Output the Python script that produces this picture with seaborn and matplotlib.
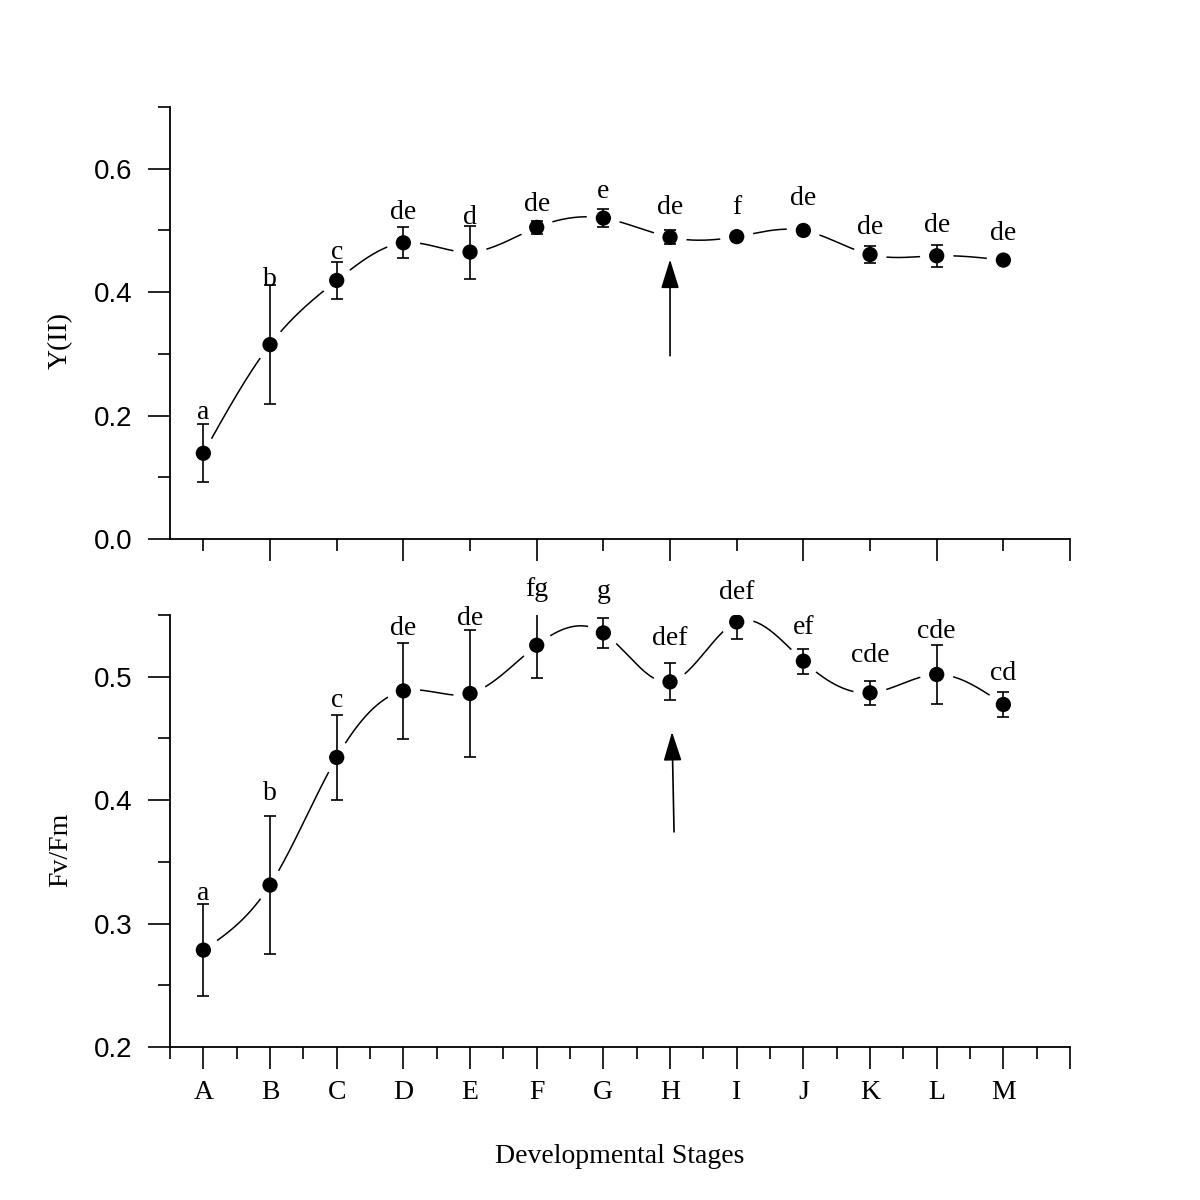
import numpy as np
import pandas as pd
import matplotlib
matplotlib.use("Agg")
import matplotlib.pyplot as plt
import seaborn as sns

# ---------------- data ----------------
stages = ["A", "B", "C", "D", "E", "F", "G", "H", "I", "J", "K", "L", "M"]

yii_mean = [0.139, 0.315, 0.419, 0.480, 0.465, 0.505, 0.520, 0.489, 0.490, 0.500, 0.461, 0.459, 0.452]
yii_err = [0.047, 0.096, 0.030, 0.025, 0.043, 0.011, 0.014, 0.011, 0.005, 0.004, 0.0135, 0.0175, 0.005]
yii_letters = ["a", "b", "c", "de", "d", "de", "e", "de", "f", "de", "de", "de", "de"]

fvfm_mean = [0.2785, 0.3312, 0.4346, 0.4885, 0.4864, 0.5255, 0.5355, 0.4958, 0.5444, 0.5126, 0.4869, 0.5018, 0.4775]
fvfm_err = [0.0375, 0.0557, 0.0347, 0.0387, 0.0515, 0.0265, 0.012, 0.015, 0.014, 0.010, 0.0096, 0.0236, 0.010]
fvfm_letters = ["a", "b", "c", "de", "de", "fg", "g", "def", "def", "ef", "cde", "cde", "cd"]

# annotation placement (baseline of letter labels, data units)
yii_label_y = [0.195, 0.410, 0.453, 0.518, 0.510, 0.531, 0.552, 0.527, 0.526, 0.542, 0.494, 0.497, 0.485]
fvfm_label_y = [0.319, 0.400, 0.4756, 0.5336, 0.5417, 0.565, 0.5636, 0.5255, 0.5633, 0.535, 0.512, 0.531, 0.4972]

# ---------------- style ----------------
sns.set_style("ticks")
plt.rcParams["font.family"] = ["Liberation Serif", "DejaVu Serif"]
plt.rcParams["axes.linewidth"] = 1.3
plt.rcParams["text.color"] = "black"
plt.rcParams["axes.labelcolor"] = "black"
plt.rcParams["xtick.color"] = "black"
plt.rcParams["ytick.color"] = "black"
plt.rcParams["axes.edgecolor"] = "black"


def natural_spline(x, y, xs):
    x = np.asarray(x, float)
    y = np.asarray(y, float)
    n = len(x)
    h = np.diff(x)
    A = np.zeros((n, n))
    b = np.zeros(n)
    A[0, 0] = 1.0
    A[-1, -1] = 1.0
    for i in range(1, n - 1):
        A[i, i - 1] = h[i - 1]
        A[i, i] = 2 * (h[i - 1] + h[i])
        A[i, i + 1] = h[i]
        b[i] = 3 * ((y[i + 1] - y[i]) / h[i] - (y[i] - y[i - 1]) / h[i - 1])
    c = np.linalg.solve(A, b)
    bb = np.zeros(n - 1)
    d = np.zeros(n - 1)
    for i in range(n - 1):
        bb[i] = (y[i + 1] - y[i]) / h[i] - h[i] * (2 * c[i] + c[i + 1]) / 3
        d[i] = (c[i + 1] - c[i]) / (3 * h[i])
    idx = np.clip(np.searchsorted(x, xs, side="right") - 1, 0, n - 2)
    dx = xs - x[idx]
    return y[idx] + bb[idx] * dx + c[idx] * dx ** 2 + d[idx] * dx ** 3


fig = plt.figure(figsize=(12, 12), dpi=100)
ax1 = fig.add_axes([0.1417, 0.5508, 0.75, 0.36])
ax2 = fig.add_axes([0.1417, 0.1275, 0.75, 0.36])

xpos = np.arange(len(stages))


def draw_panel(ax, mean, err, letters, label_y):
    xs = np.linspace(0, len(stages) - 1, 600)
    curve = pd.DataFrame({"x": xs, "y": natural_spline(xpos, mean, xs)})
    sns.lineplot(data=curve, x="x", y="y", ax=ax, color="black", lw=1.1,
                 sort=False, estimator=None, zorder=1)
    pts = pd.DataFrame({"x": xpos, "y": mean})
    # white halo giving the gap between curve and symbol
    sns.scatterplot(data=pts, x="x", y="y", ax=ax, s=24 ** 2, color="white",
                    edgecolor="none", zorder=2, legend=False)
    ax.errorbar(xpos, mean, yerr=err, fmt="none", ecolor="black",
                elinewidth=1.2, capsize=4.5, capthick=1.2, zorder=3)
    sns.scatterplot(data=pts, x="x", y="y", ax=ax, s=11 ** 2, color="black",
                    edgecolor="none", zorder=4, legend=False)
    for xi, ly, s in zip(xpos, label_y, letters):
        ax.text(xi, ly, s, ha="center", va="baseline", fontsize=20,
                family="Liberation Serif", color="black", zorder=5)
    sns.despine(ax=ax)
    ax.set_xlim(-0.5, 13)
    ax.set_xlabel("")


# ---- top panel ----
draw_panel(ax1, yii_mean, yii_err, yii_letters, yii_label_y)
ax1.set_ylim(0, 0.7)
ax1.set_yticks([0.0, 0.2, 0.4, 0.6])
ax1.set_yticklabels(["0.0", "0.2", "0.4", "0.6"])
ax1.set_yticks([0.1, 0.3, 0.5, 0.7], minor=True)
ax1.set_xticks([1, 3, 5, 7, 9, 11, 13])
ax1.set_xticklabels([])
ax1.set_xticks(np.arange(0, 13, 2), minor=True)
ax1.set_ylabel("Y(II)", fontsize=20)
ax1.yaxis.set_label_coords(-0.108, 0.46)
ax1.annotate("", xy=(7, 0.453), xytext=(7, 0.297),
             arrowprops=dict(arrowstyle="-|>,head_length=0.9,head_width=0.28",
                             mutation_scale=20, color="black", lw=1.2,
                             shrinkA=0, shrinkB=0), zorder=6)

# ---- bottom panel ----
draw_panel(ax2, fvfm_mean, fvfm_err, fvfm_letters, fvfm_label_y)
ax2.set_ylim(0.2, 0.55)
ax2.set_yticks([0.2, 0.3, 0.4, 0.5])
ax2.set_yticklabels(["0.2", "0.3", "0.4", "0.5"])
ax2.set_yticks([0.25, 0.35, 0.45, 0.55], minor=True)
ax2.set_xticks(np.arange(0, 14))
ax2.set_xticklabels(stages + [""], fontsize=20)
ax2.set_xticks(np.arange(-0.5, 13, 1.0), minor=True)
ax2.set_ylabel("Fv/Fm", fontsize=20)
ax2.yaxis.set_label_coords(-0.108, 0.456)
ax2.set_xlabel("Developmental Stages", fontsize=20)
ax2.xaxis.set_label_coords(0.5, -0.225)
ax2.xaxis.label.set_verticalalignment("top")
ax2.annotate("", xy=(7.03, 0.4553), xytext=(7.06, 0.3743),
             arrowprops=dict(arrowstyle="-|>,head_length=0.9,head_width=0.28",
                             mutation_scale=20, color="black", lw=1.2,
                             shrinkA=0, shrinkB=0), zorder=6)

for ax in (ax1, ax2):
    ax.tick_params(which="major", direction="out", length=16, width=1.2,
                   color="black", labelcolor="black")
    ax.tick_params(which="minor", direction="out", length=8.5, width=1.2,
                   color="black")
    ax.tick_params(axis="y", which="major", pad=11)
    ax.tick_params(axis="x", which="major", pad=8)
    for lbl in ax.get_yticklabels():
        lbl.set_fontfamily(["Liberation Sans", "DejaVu Sans"])
        lbl.set_fontsize(20)
    for sp in ax.spines.values():
        sp.set_color("black")

fig.savefig("out.png", dpi=100, facecolor="white")
